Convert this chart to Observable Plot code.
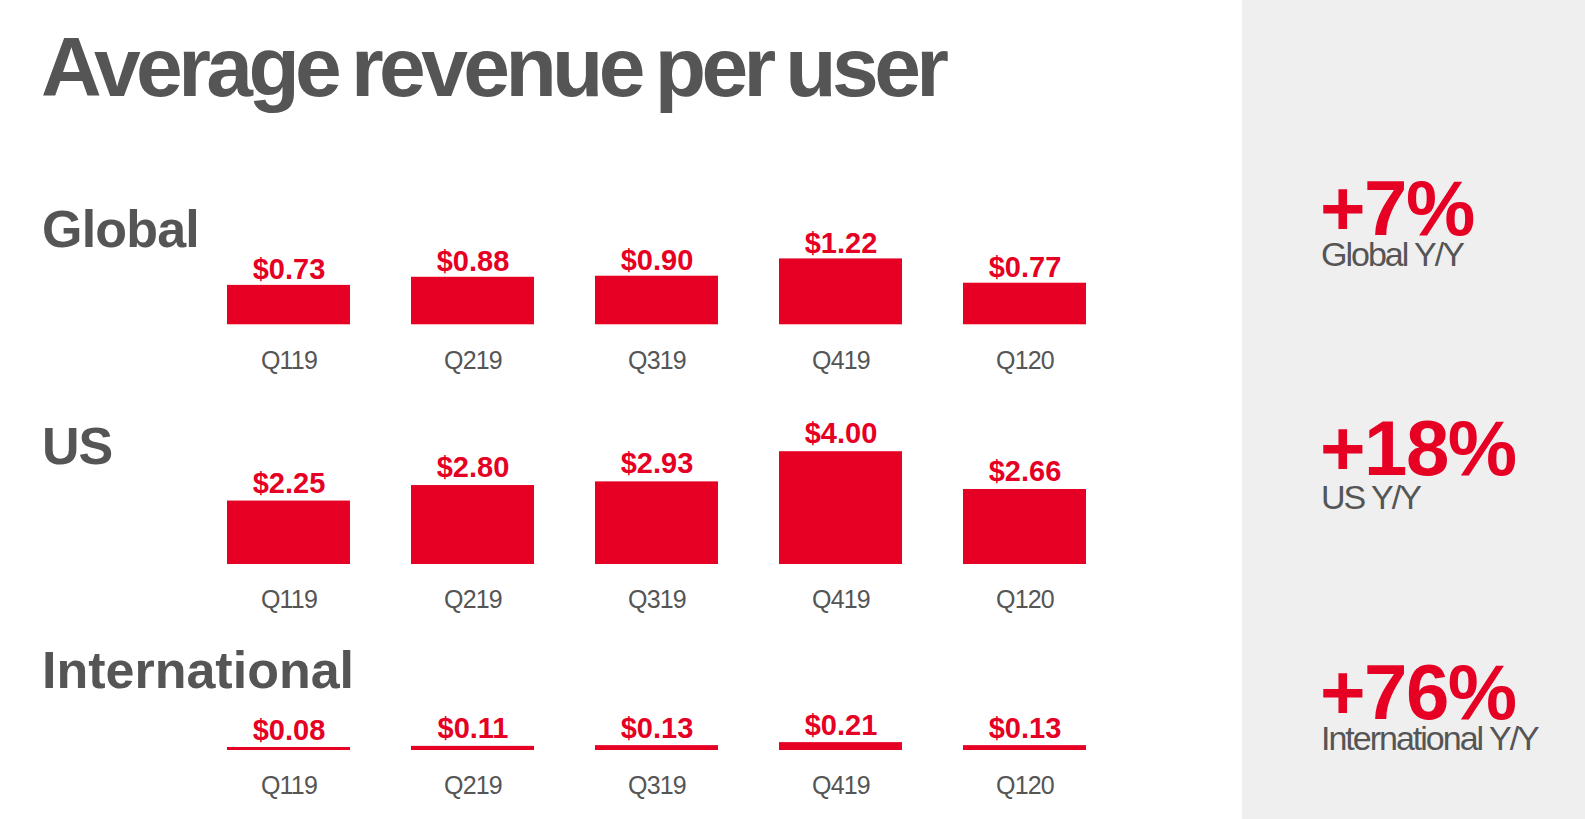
<!DOCTYPE html>
<html><head><meta charset="utf-8">
<script src="https://cdn.jsdelivr.net/npm/d3@7"></script>
<script src="https://cdn.jsdelivr.net/npm/@observablehq/plot@0.6"></script>
<style>
body{margin:0;background:#fff;font-family:"Liberation Sans",Arial,Helvetica,sans-serif;}
#root{position:relative;width:1585px;height:819px;overflow:hidden;background:#fff}
.abs{position:absolute;white-space:nowrap;line-height:1}
.panel{position:absolute;left:1242px;top:0;width:343px;height:819px;background:#efefef}
.chart{position:absolute;left:0}
g[aria-label="x-axis tick label"] text{letter-spacing:-0.8px}
</style></head><body><div id="root"><div class="panel"></div></div>
<script>
// ---- data ----
const quarters = ["Q119", "Q219", "Q319", "Q419", "Q120"];
const globalArpu = [0.73, 0.88, 0.90, 1.22, 0.77];
const usArpu = [2.25, 2.80, 2.93, 4.00, 2.66];
const intlArpu = [0.08, 0.11, 0.13, 0.21, 0.13];
const regions = ["Global", "US", "International"];
const yoyGrowth = ["+7%", "+18%", "+76%"];
const yoyLabels = ["Global Y/Y", "US Y/Y", "International Y/Y"];
const titleText = "Average revenue per user";

// ---- styling / layout ----
const RED = "#e60023";
const GREY = "#555555";
const root = document.getElementById("root");

function addText(txt, o) {
  const d = document.createElement("div");
  d.className = "abs";
  d.textContent = txt;
  Object.assign(d.style, o);
  root.appendChild(d);
}

addText(titleText, {left: "41px", top: "25px", fontSize: "84px", fontWeight: "bold", color: GREY, letterSpacing: "-4.6px", wordSpacing: "-5px"});

const sectionStyles = [
  {left: "42px", top: "202.7px", fontSize: "52px", letterSpacing: "-0.8px"},
  {left: "42px", top: "420px", fontSize: "52px", letterSpacing: "-1px"},
  {left: "42px", top: "644.3px", fontSize: "52px", letterSpacing: "0px"}
];
regions.forEach((r, i) => addText(r, Object.assign({fontWeight: "bold", color: GREY}, sectionStyles[i])));

// big percentages: line-height 0.8 → baseline at 0.7465em from box top
const bigBaselines = [235, 475, 719.3];
const subBaselines = [266.7, 509.3, 750.7];
yoyGrowth.forEach((g, i) => {
  addText(g, {left: "1320px", top: (bigBaselines[i] - 0.7465 * 78) + "px", lineHeight: "0.8", fontSize: "78px", fontWeight: "bold", color: RED, letterSpacing: "-1.5px"});
  addText(yoyLabels[i], {left: "1321px", top: (subBaselines[i] - 0.7715 * 34) + "px", lineHeight: "0.85", fontSize: "34px", color: GREY, letterSpacing: "-2px"});
});

const series = [globalArpu, usArpu, intlArpu];
const chartLayouts = [
  {top: 200, base: 124.3, pxPerUnit: 54, dy: -6},
  {top: 410, base: 154, pxPerUnit: 28.2, dy: -8.5},
  {top: 690, base: 60, pxPerUnit: 37.5, dy: -8}
];

series.forEach((vals, i) => {
  const L = chartLayouts[i];
  const data = quarters.map((q, j) => ({q, v: vals[j]}));
  const H = L.base + 66;
  const chart = Plot.plot({
    width: 1240,
    height: H,
    marginTop: 0,
    marginBottom: H - L.base,
    marginLeft: 0,
    marginRight: 0,
    x: {type: "band", domain: quarters, range: [166, 1147], padding: 0.3315},
    y: {domain: [0, L.base / L.pxPerUnit], axis: null},
    style: {background: "transparent", color: GREY, fontFamily: '"Liberation Sans",Arial,Helvetica,sans-serif', overflow: "visible"},
    marks: [
      Plot.barY(data, {x: "q", y: "v", fill: RED}),
      Plot.text(data, {x: "q", y: "v", text: d => "$" + d.v.toFixed(2), dy: L.dy, lineAnchor: "bottom", fontSize: 29, fontWeight: "bold", fill: RED}),
      Plot.axisX({tickSize: 0, tickPadding: 26, fontSize: 25, label: null})
    ]
  });
  chart.classList.add("chart");
  chart.style.position = "absolute";
  chart.style.left = "0px";
  chart.style.top = L.top + "px";
  root.appendChild(chart);
});
</script></body></html>
